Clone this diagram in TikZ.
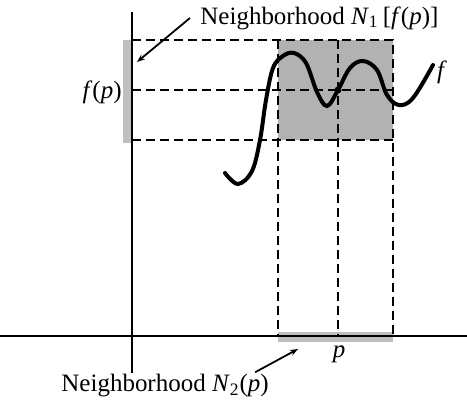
\documentclass[tikz,border=0pt]{standalone}
\usepackage{fontspec}
\setmainfont{Liberation Serif}
\usetikzlibrary{arrows.meta}

\begin{document}
\begin{tikzpicture}[
  x=0.5pt, y=-0.5pt,
  every node/.style={font=\fontsize{12.5}{14}\selectfont, inner sep=1pt},
  axis/.style={line width=1.3pt},
  guide/.style={line width=1.1pt, dash pattern=on 4.5pt off 2.5pt},
  band/.style={fill=gray!50},
  graphline/.style={line width=2pt, line cap=round},
  pointer/.style={line width=0.9pt, -{Stealth[length=4pt, width=3pt]}}
]
\useasboundingbox (0,0) rectangle (467,401);

% ---- shaded neighbourhoods ----
\fill[gray!60] (278,40) rectangle (393,140);
\fill[band] (123,40) rectangle (131,143);
\fill[band] (278,332) rectangle (393,342);

% ---- axes ----
\draw[axis] (132,12) -- (132,373);
\draw[axis] (0,336) -- (467,336);

% ---- dashed guides ----
\draw[guide] (132,40) -- (393,40) -- (393,336);
\draw[guide] (132,90) -- (393,90);
\draw[guide] (132,140) -- (393,140);
\draw[guide] (278,40) -- (278,336);
\draw[guide] (338,40) -- (338,336);

% ---- the function f ----
\draw[graphline] plot[smooth, tension=0.6] coordinates {
  (225,173) (238,184) (252,171) (260,140) (266,100) (273,68)
  (283,56) (294,53) (306,63) (317,92) (327,106) (338,90)
  (350,68) (363,61) (377,70) (387,95) (399,105) (413,98) (433,65)};
\fill (338,90) circle (3.5);

% ---- labels ----
\node (fval) [anchor=east] at (124,92) {\textit{f}(\textit{p})};
\node (fname) at (442,72) {\textit{f}};
\node (pval) at (339,354) {\textit{p}};
\node (nbhdone) [anchor=west] at (198,18)
  {Neighborhood \textit{N}\textsubscript{1}\,[\textit{f}(\textit{p})]};
\node (nbhdtwo) [anchor=west] at (59,386)
  {Neighborhood \textit{N}\textsubscript{2}(\textit{p})};

% ---- pointers to the neighbourhoods ----
\coordinate (bandy) at (137,62);
\coordinate (bandx) at (298,349);
\draw[pointer] ([xshift=-4pt]nbhdone.west) -- (bandy);
\draw[pointer] ([xshift=-8pt]nbhdtwo.north east) -- (bandx);

\end{tikzpicture}
\end{document}
